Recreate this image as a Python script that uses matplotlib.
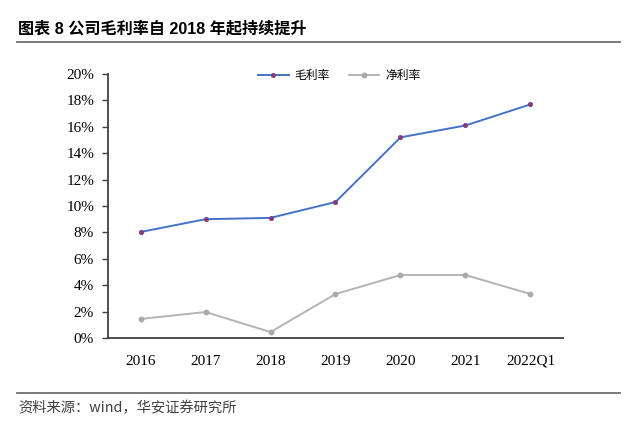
import matplotlib
matplotlib.use("Agg")
import matplotlib.pyplot as plt
from matplotlib.lines import Line2D

# data
years = ['2016', '2017', '2018', '2019', '2020', '2021', '2022Q1']
gross_margin = [8.03, 9.0, 9.1, 10.3, 15.2, 16.1, 17.7]   # 毛利率 %
net_margin = [1.44, 1.97, 0.45, 3.33, 4.77, 4.77, 3.33]   # 净利率 %
yticks = list(range(0, 21, 2))

cjk = ['Noto Sans CJK SC', 'DejaVu Sans']
title_font = ['Liberation Sans', 'Noto Sans CJK SC']
serif = ['Liberation Serif', 'DejaVu Serif']

fig = plt.figure(figsize=(6.24, 4.21), dpi=100)
ax = fig.add_axes([108/624, 1-338/421, (563-108)/624, (338-74)/421])

x = list(range(len(years)))
ax.plot(x, gross_margin, color='#4472C4', lw=1.4, marker='o', ms=3.2,
        mfc='#8B3A6B', mec='#6A4A9A', mew=0.5, label='毛利率')
ax.plot(x, net_margin, color='#B4B4B4', lw=1.4, marker='o', ms=3.2,
        mfc='#AAAAAA', mec='#AAAAAA', label='净利率')

ax.set_xlim(-0.5, len(years) - 0.5)
ax.set_ylim(0, 20)
ax.set_yticks(yticks)
ax.set_yticklabels([f'{v}%' for v in yticks], family=serif, fontsize=11)
ax.set_xticks(x)
ax.set_xticklabels(years, family=serif, fontsize=11)
ax.tick_params(axis='x', length=0, pad=12)
ax.tick_params(axis='y', length=4, direction='out', width=1, color='#404040', pad=6)
for s in ['top', 'right']:
    ax.spines[s].set_visible(False)
for s in ['left', 'bottom']:
    ax.spines[s].set_color('#404040')
    ax.spines[s].set_linewidth(1.3)

ax.legend(loc='upper center', bbox_to_anchor=(0.508, 1.06), ncol=2, frameon=False,
          prop={'family': cjk, 'size': 8.5}, handlelength=2.6, handletextpad=0.5,
          columnspacing=1.6)

# title and source
fig.text(18/624, 1-28/421, '图表 8 公司毛利率自 2018 年起持续提升', family=title_font,
         fontsize=11.6, fontweight='bold', va='center', ha='left')
fig.add_artist(Line2D([17/624, 620/624], [1-42/421, 1-42/421], color='#6F6F6F', lw=1.3))
fig.add_artist(Line2D([17/624, 620/624], [1-393/421, 1-393/421], color='#6F6F6F', lw=1.3))
fig.text(18/624, 1-408/421, '资料来源：wind，华安证券研究所', family=cjk,
         fontsize=10.3, va='center', ha='left', color='#404040')

fig.savefig('out.png', dpi=100)
